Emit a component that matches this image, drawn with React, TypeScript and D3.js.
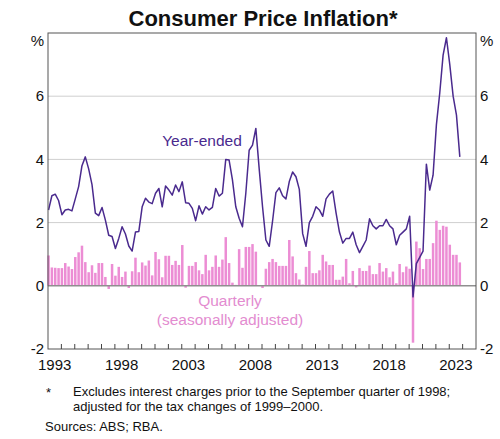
import React, { useEffect, useRef } from "react";
import * as d3 from "d3";

// Quarterly series, 1993 Q1 to 2023 Q4
const startYear = 1993;

// Year-ended CPI inflation, per cent
const yearEnded = [
  2.4, 2.85, 2.9, 2.7,
  2.25, 2.4, 2.42, 2.37,
  2.75, 3.14, 3.8, 4.08,
  3.7, 3.2, 2.3, 2.22,
  2.48, 2.08, 1.6, 1.56,
  1.18, 1.5, 1.87, 1.64,
  1.26, 1.1, 1.7, 1.72,
  2.5, 2.77, 2.65, 2.6,
  2.93, 3.08, 2.5, 3.16,
  3.03, 2.87, 3.19, 2.98,
  3.29, 2.63, 2.61, 2.45,
  2.06, 2.53, 2.27, 2.5,
  2.4, 2.48, 3.08, 2.84,
  2.93, 4.0, 3.98, 3.35,
  2.5, 2.14, 1.87, 2.93,
  4.29, 4.45, 4.98, 3.7,
  2.5, 1.45, 1.25, 2.05,
  2.95, 3.1, 2.85, 2.75,
  3.3, 3.6, 3.45, 3.05,
  1.65, 1.25, 2.0, 2.2,
  2.5, 2.4, 2.2, 2.75,
  2.9, 3.0, 2.3, 1.7,
  1.35, 1.5, 1.5, 1.7,
  1.3, 1.05, 1.25, 1.45,
  2.12, 1.9, 1.8, 1.9,
  1.9, 2.1, 1.9, 1.8,
  1.3, 1.6, 1.7, 1.8,
  2.2, -0.35, 0.7, 0.9,
  1.1, 3.85, 3.03, 3.5,
  5.1, 6.1, 7.3, 7.85,
  7.0, 6.0, 5.4, 4.08,
];

// Quarterly change, seasonally adjusted, per cent
const quarterly = [
  0.96, 0.58, 0.57, 0.56,
  0.56, 0.72, 0.61, 0.53,
  0.91, 1.06, 1.27, 0.75,
  0.43, 0.65, 0.41, 0.72,
  0.72, 0.28, -0.1, 0.69,
  0.32, 0.6, 0.28, 0.45,
  -0.07, 0.46, 0.89, 0.43,
  0.74, 0.64, 0.8, 0.33,
  1.07, 0.84, 0.27, 0.95,
  0.95, 0.66, 0.79, 0.66,
  1.29, -0.06, 0.63, 0.63,
  0.75, 0.49, 0.37, 0.98,
  0.49, 0.6, 0.96, 0.6,
  0.83, 1.54, 0.72, 0.1,
  0.03, 1.16, 0.57, 1.23,
  1.23, 1.32, 1.08, 0.02,
  -0.07, 0.54, 0.75, 0.85,
  0.75, 0.63, 0.63, 0.63,
  1.45, 0.93, 0.4, 0.2,
  0.04, 0.6, 1.1, 0.4,
  0.4, 0.49, 0.98, 0.77,
  0.66, 0.66, 0.19, 0.19,
  0.29, 0.85, 0.08, 0.47,
  -0.05, 0.56, 0.47, 0.47,
  0.64, 0.37, 0.37, 0.72,
  0.45, 0.56, 0.27, 0.45,
  0.08, 0.69, 0.43, 0.61,
  0.54, -1.8, 1.4, 1.19,
  0.53, 0.85, 0.85, 1.35,
  2.06, 1.77, 1.9, 1.87,
  1.3, 0.98, 0.98, 0.74,
];

const yTickValues = [-2, 0, 2, 4, 6];
const gridValues = [2, 4, 6];
const yearLabels = [1993, 1998, 2003, 2008, 2013, 2018, 2023];
const yearTicks = [
  1994, 1995, 1996, 1997, 1998, 1999, 2000, 2001, 2002, 2003, 2004,
  2005, 2006, 2007, 2008, 2009, 2010, 2011, 2012, 2013, 2014, 2015,
  2016, 2017, 2018, 2019, 2020, 2021, 2022, 2023, 2024,
];

const LINE = "#4a2a8e";
const BAR = "#ec8dd4";
const FONT = "'Liberation Sans', Arial, sans-serif";

const App = () => {
  const svgRef = useRef<SVGSVGElement>(null);

  useEffect(() => {
    const svg = d3.select(svgRef.current);
    svg.selectAll("*").remove();

    const width = 500;
    const height = 439;
    const margin = { top: 33, right: 24, bottom: 90, left: 48 };
    const x0 = margin.left;
    const x1 = width - margin.right;
    const yTop = margin.top;
    const yBottom = height - margin.bottom;

    const quarters = yearEnded.map((_, i) => startYear + i / 4 + 0.04);

    const x = d3.scaleLinear().domain([1993, 2025]).range([x0, x1]);
    const y = d3.scaleLinear().domain([-2, 8]).range([yBottom, yTop]);

    svg.append("rect")
      .attr("width", width)
      .attr("height", height)
      .attr("fill", "#fff");

    // horizontal grid
    svg.append("g")
      .selectAll("line")
      .data(gridValues)
      .enter()
      .append("line")
      .attr("x1", x0)
      .attr("x2", x1)
      .attr("y1", (d) => y(d))
      .attr("y2", (d) => y(d))
      .attr("stroke", "#cfcfcf")
      .attr("stroke-width", 1);

    // quarterly bars
    const bw = 2.5;
    svg.append("g")
      .selectAll("rect")
      .data(quarterly)
      .enter()
      .append("rect")
      .attr("x", (d, i) => x(quarters[i]) - bw / 2)
      .attr("y", (d) => y(Math.max(0, d)))
      .attr("width", bw)
      .attr("height", (d) => Math.abs(y(d) - y(0)))
      .attr("fill", BAR);

    // zero line
    svg.append("line")
      .attr("x1", x0)
      .attr("x2", x1)
      .attr("y1", y(0))
      .attr("y2", y(0))
      .attr("stroke", "#8f8f8f")
      .attr("stroke-width", 1.5);

    // year-ended line
    const line = d3.line<number>()
      .x((d, i) => x(quarters[i]))
      .y((d) => y(d));

    svg.append("path")
      .datum(yearEnded)
      .attr("d", line)
      .attr("fill", "none")
      .attr("stroke", LINE)
      .attr("stroke-width", 1.5)
      .attr("stroke-linejoin", "round");

    // frame
    svg.append("rect")
      .attr("x", x0)
      .attr("y", yTop)
      .attr("width", x1 - x0)
      .attr("height", yBottom - yTop)
      .attr("fill", "none")
      .attr("stroke", "#555")
      .attr("stroke-width", 1);

    // year ticks along the bottom
    svg.append("g")
      .selectAll("line")
      .data(yearTicks)
      .enter()
      .append("line")
      .attr("x1", (d) => x(d))
      .attr("x2", (d) => x(d))
      .attr("y1", yBottom)
      .attr("y2", yBottom - 5)
      .attr("stroke", "#444")
      .attr("stroke-width", 1);

    const text = svg.append("g").attr("font-family", FONT).attr("fill", "#111");

    text.selectAll(".yl")
      .data(yTickValues)
      .enter()
      .append("text")
      .attr("x", x0 - 4)
      .attr("y", (d) => y(d))
      .attr("dy", "0.35em")
      .attr("text-anchor", "end")
      .attr("font-size", 15)
      .text((d) => d);

    text.selectAll(".yr")
      .data(yTickValues)
      .enter()
      .append("text")
      .attr("x", x1 + 4)
      .attr("y", (d) => y(d))
      .attr("dy", "0.35em")
      .attr("text-anchor", "start")
      .attr("font-size", 15)
      .text((d) => d);

    text.append("text")
      .attr("x", x0 - 4)
      .attr("y", yTop + 13)
      .attr("text-anchor", "end")
      .attr("font-size", 15)
      .text("%");

    text.append("text")
      .attr("x", x1 + 4)
      .attr("y", yTop + 13)
      .attr("text-anchor", "start")
      .attr("font-size", 15)
      .text("%");

    text.selectAll(".xl")
      .data(yearLabels)
      .enter()
      .append("text")
      .attr("x", (d) => x(d + 0.5))
      .attr("y", yBottom + 21)
      .attr("text-anchor", "middle")
      .attr("font-size", 15)
      .text((d) => d);

    text.append("text")
      .attr("x", 263)
      .attr("y", 26)
      .attr("text-anchor", "middle")
      .attr("font-size", 22)
      .attr("font-weight", "bold")
      .text("Consumer Price Inflation*");

    text.append("text")
      .attr("x", 202)
      .attr("y", 146)
      .attr("text-anchor", "middle")
      .attr("font-size", 15.5)
      .attr("fill", LINE)
      .text("Year-ended");

    text.append("text")
      .attr("x", 230)
      .attr("y", 306)
      .attr("text-anchor", "middle")
      .attr("font-size", 15.5)
      .attr("fill", "#e38cd0")
      .text("Quarterly");

    text.append("text")
      .attr("x", 230)
      .attr("y", 325)
      .attr("text-anchor", "middle")
      .attr("font-size", 15.5)
      .attr("fill", "#e38cd0")
      .text("(seasonally adjusted)");

    // notes
    text.append("text")
      .attr("x", 46)
      .attr("y", 397)
      .attr("font-size", 13)
      .text("*");

    text.append("text")
      .attr("x", 73)
      .attr("y", 396)
      .attr("font-size", 13)
      .text("Excludes interest charges prior to the September quarter of 1998;");

    text.append("text")
      .attr("x", 73)
      .attr("y", 411)
      .attr("font-size", 13)
      .text("adjusted for the tax changes of 1999\u20132000.");

    text.append("text")
      .attr("x", 45)
      .attr("y", 431)
      .attr("font-size", 13)
      .text("Sources: ABS; RBA.");
  }, []);

  return (
    <svg
      ref={svgRef}
      width={500}
      height={439}
      style={{ position: "absolute", left: 0, top: 0 }}
    ></svg>
  );
};

export default App;
